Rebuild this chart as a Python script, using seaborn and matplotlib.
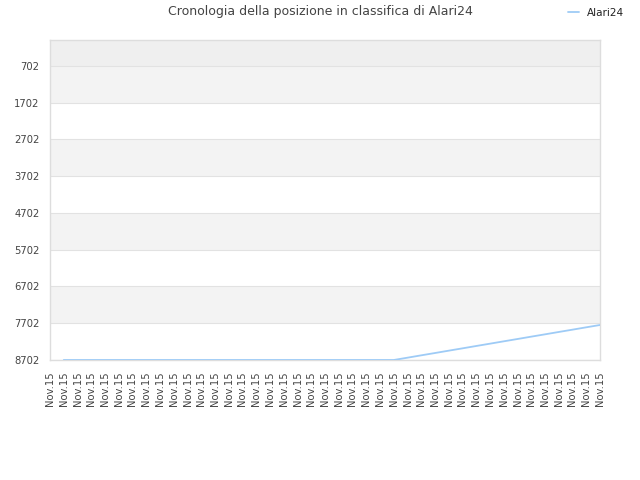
import matplotlib
matplotlib.use("Agg")
import matplotlib.pyplot as plt
import numpy as np
import pandas as pd
import seaborn as sns

PLAYER = "Alari24"
TITLE = "Cronologia della posizione in classifica di Alari24"
X_LABELS = ["Nov.15"] * 41
# rank per snapshot, first snapshot has no value
RANKS = [np.nan] + [8702] * 25 + [
    8639, 8575, 8512, 8448, 8385, 8321, 8258, 8194,
    8131, 8067, 8004, 7940, 7877, 7813, 7750,
]
Y_TICKS = [702, 1702, 2702, 3702, 4702, 5702, 6702, 7702, 8702]

LINE_COLOR = "#9ecbf6"
TEXT_COLOR = "#444444"


def main() -> None:
    sns.set_style("white")
    plt.rcParams["font.family"] = ["DejaVu Sans"]

    df = pd.DataFrame({"idx": np.arange(len(RANKS)), "rank": RANKS})

    fig = plt.figure(figsize=(6.4, 4.8), dpi=100)
    ax = fig.add_axes([50 / 640, 120 / 480, 550 / 640, 320 / 480])

    # alternating bands between the ticks
    ax.axhspan(0, Y_TICKS[0], color="#efefef", zorder=0, lw=0)
    for i in range(len(Y_TICKS) - 1):
        if i % 2 == 0:
            ax.axhspan(Y_TICKS[i], Y_TICKS[i + 1], color="#f3f3f3", zorder=0, lw=0)
    for t in Y_TICKS:
        ax.axhline(t, color="#e2e2e2", lw=0.8, zorder=1)

    sns.lineplot(data=df, x="idx", y="rank", ax=ax, color=LINE_COLOR,
                 linewidth=1.3, label=PLAYER, legend=False, zorder=3)

    ax.set_xlim(0, len(X_LABELS) - 1)
    ax.set_ylim(8702, 0)
    ax.set_yticks(Y_TICKS)
    ax.set_yticklabels([str(t) for t in Y_TICKS])
    ax.set_xticks(np.arange(len(X_LABELS)))
    ax.set_xticklabels(X_LABELS, rotation=90)
    ax.tick_params(axis="both", length=0, labelsize=7.2, colors=TEXT_COLOR)
    ax.tick_params(axis="x", pad=8.5)
    ax.tick_params(axis="y", pad=7.5)
    ax.set_xlabel("")
    ax.set_ylabel("")

    for spine in ax.spines.values():
        spine.set_color("#dddddd")
        spine.set_linewidth(1)

    fig.text(0.5, 0.975, TITLE, ha="center", va="center", fontsize=9, color=TEXT_COLOR)
    handles, labels = ax.get_legend_handles_labels()
    fig.legend(handles, labels, loc="center right", bbox_to_anchor=(0.99, 0.973),
               frameon=False, fontsize=7.5, handlelength=1.0, handletextpad=0.8,
               labelcolor="#222222")

    fig.savefig("out.png", dpi=100)
    plt.close(fig)


if __name__ == "__main__":
    main()
